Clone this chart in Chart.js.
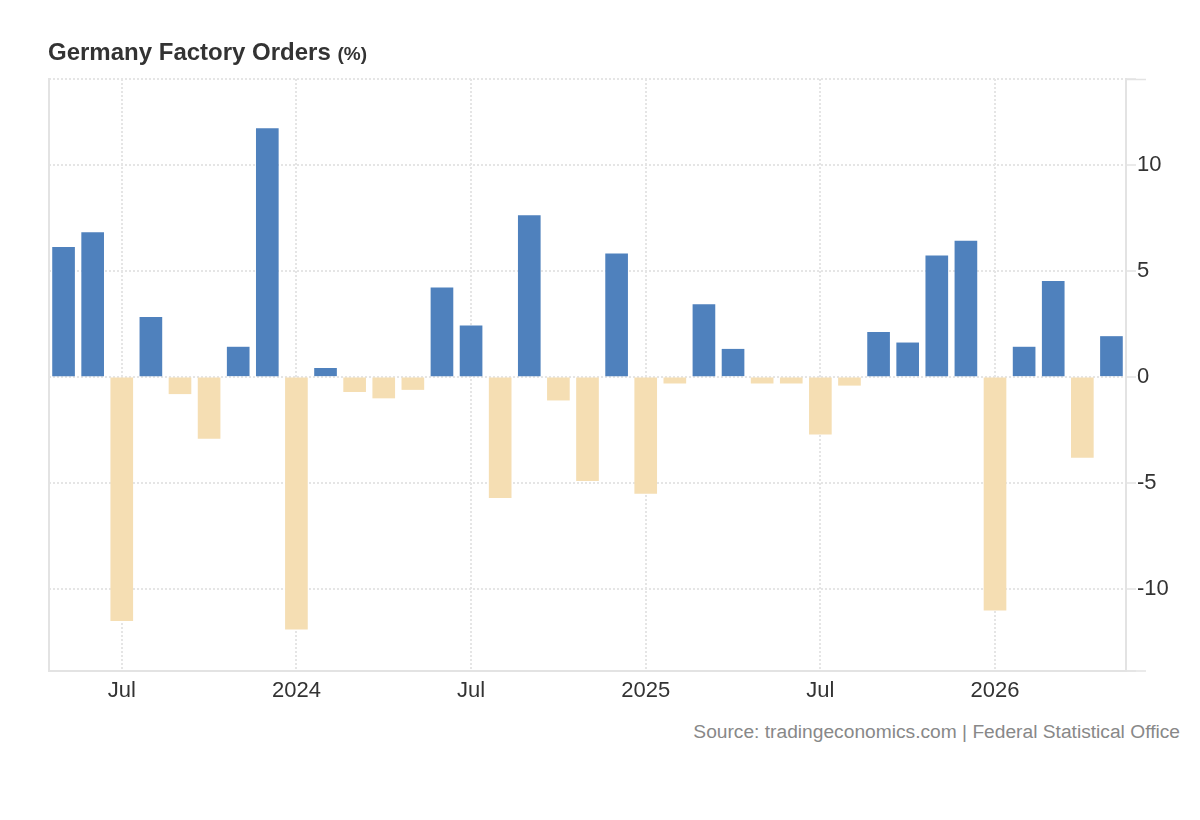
<!DOCTYPE html>
<html>
<head>
<meta charset="utf-8">
<script src="https://cdn.jsdelivr.net/npm/chart.js@4.4.1/dist/chart.umd.min.js"></script>
<style>
html,body{margin:0;padding:0;background:#fff;}
#wrap{position:relative;width:1200px;height:820px;overflow:hidden;font-family:Arial,"Liberation Sans",sans-serif;}
#title{position:absolute;left:48px;top:40px;font-weight:bold;font-size:24px;line-height:1;color:#333;white-space:nowrap;}
#title span{font-size:19px;}
#source{position:absolute;right:20px;top:722px;font-size:19.2px;line-height:1;color:#888;white-space:nowrap;}
#c{position:absolute;left:0;top:0;}
</style>
</head>
<body>
<div id="wrap">
  <canvas id="c" width="1200" height="720"></canvas>
  <div id="title">Germany Factory Orders <span>(%)</span></div>
  <div id="source">Source: tradingeconomics.com | Federal Statistical Office</div>
</div>
<script>
// ---- data ----
const months = [
  '2023-05','2023-06','2023-07','2023-08','2023-09','2023-10','2023-11','2023-12',
  '2024-01','2024-02','2024-03','2024-04','2024-05','2024-06','2024-07','2024-08','2024-09','2024-10','2024-11','2024-12',
  '2025-01','2025-02','2025-03','2025-04','2025-05','2025-06','2025-07','2025-08','2025-09','2025-10','2025-11','2025-12',
  '2026-01','2026-02','2026-03','2026-04','2026-05'
];
const orderChange = [
  6.1, 6.8, -11.5, 2.8, -0.8, -2.9, 1.4, 11.7,
  -11.9, 0.4, -0.7, -1.0, -0.6, 4.2, 2.4, -5.7, 7.6, -1.1, -4.9, 5.8,
  -5.5, -0.3, 3.4, 1.3, -0.3, -0.3, -2.7, -0.4, 2.1, 1.6, 5.7, 6.4,
  -11.0, 1.4, 4.5, -3.8, 1.9
];
const yTickValues = [-10, -5, 0, 5, 10];
const yMin = -13.87;
const yMax = 14.04;
const midYearLabel = 'Jul';

// ---- styling ----
const BLUE = '#4f81bd';
const BEIGE = '#f5deb3';
const GRID = '#e5e5e5';
const AXIS = '#e3e3e3';
const TEXT = '#333333';
const FONT = 'Arial, "Liberation Sans", sans-serif';

Chart.defaults.font.family = FONT;

function xTick(i) {
  const [yr, mo] = months[i].split('-');
  if (mo === '01') return yr;
  if (mo === '07') return midYearLabel;
  return '';
}

// extends the outer y-axis ticks at the top and bottom of the plot
const edgeTicks = {
  id: 'edgeTicks',
  afterDraw(chart) {
    const a = chart.chartArea, c = chart.ctx;
    c.save();
    c.strokeStyle = AXIS;
    c.lineWidth = 1.5;
    c.beginPath();
    c.moveTo(a.right, a.top + 0.5); c.lineTo(a.right + 20, a.top + 0.5);
    c.moveTo(a.right, a.bottom); c.lineTo(a.right + 20, a.bottom);
    c.stroke();
    c.restore();
  }
};

new Chart(document.getElementById('c'), {
  type: 'bar',
  data: {
    labels: months,
    datasets: [{
      data: orderChange,
      backgroundColor: orderChange.map(v => v >= 0 ? BLUE : BEIGE),
      borderWidth: 0,
      barThickness: 22
    }]
  },
  plugins: [edgeTicks],
  options: {
    responsive: false,
    animation: false,
    events: [],
    layout: { padding: { left: 49, top: 79, right: 0, bottom: 0 } },
    plugins: { legend: { display: false }, tooltip: { enabled: false }, title: { display: false } },
    scales: {
      x: {
        type: 'category',
        offset: true,
        grid: {
          offset: false,
          drawTicks: false,
          lineWidth: 2,
          color: c => (c.index !== undefined && xTick(c.index) !== '') ? GRID : 'rgba(0,0,0,0)'
        },
        border: { display: true, color: AXIS, width: 2, dash: [2, 2] },
        ticks: {
          autoSkip: false, maxRotation: 0, minRotation: 0, padding: 7,
          color: TEXT, font: { size: 22 },
          callback: (v, i) => xTick(i)
        },
        afterFit: s => { s.height = 49; }
      },
      y: {
        position: 'right',
        min: yMin, max: yMax,
        afterBuildTicks: s => { s.ticks = [yMin, ...yTickValues, yMax].map(v => ({ value: v })); },
        grid: { color: GRID, lineWidth: 2, drawTicks: true, tickLength: 10, tickColor: AXIS, tickWidth: 1.5, tickBorderDash: [] },
        border: { display: true, color: AXIS, width: 2, dash: [2, 2] },
        ticks: {
          padding: 1, color: TEXT, font: { size: 22 },
          callback: v => yTickValues.includes(v) ? String(v) : ''
        },
        afterFit: s => { s.width = 74; }
      },
      yl: {
        position: 'left',
        min: yMin, max: yMax,
        grid: { display: false, drawOnChartArea: false, drawTicks: false },
        ticks: { display: false },
        border: { display: true, color: AXIS, width: 2 },
        afterFit: s => { s.width = 0; }
      }
    }
  }
});
</script>
</body>
</html>
